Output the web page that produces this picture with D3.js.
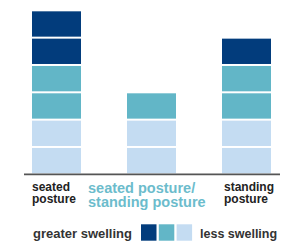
<!DOCTYPE html>
<html>
<head>
<meta charset="utf-8">
<script src="https://cdn.jsdelivr.net/npm/d3@7"></script>
<style>
  body { margin: 0; background: #fff; }
  svg { display: block; font-family: "Liberation Sans", Arial, Helvetica, sans-serif; font-weight: bold; }
</style>
</head>
<body>
<svg id="svg" width="281" height="244"></svg>
<script>
// data
const categories = ['seated', 'mixed', 'standing'];
const categoryLines = [['seated', 'posture'], ['seated posture/', 'standing posture'], ['standing', 'posture']];
const levels = ['less', 'medium', 'greater'];
const lessCounts = [2, 2, 2];
const mediumCounts = [2, 1, 2];
const greaterCounts = [2, 0, 1];
const legendLabels = ['greater swelling', 'less swelling'];

const colors = { less: '#c4dcf2', medium: '#62b6c7', greater: '#023c7c' };

var svg = d3.select('#svg');

const xScale = d3.scaleBand()
  .range([32, 271])
  .domain(categories)
  .paddingInner(46 / 95)
  .paddingOuter(0);

const yScale = d3.scaleLinear()
  .range([173.3, 173.3 - 6 * 27.33])
  .domain([0, 6]);

// one box per unit, stacked bottom-up
const boxes = [];
categories.forEach(function (c, i) {
  var k = 0;
  [lessCounts[i], mediumCounts[i], greaterCounts[i]].forEach(function (n, l) {
    for (var j = 0; j < n; j++) {
      boxes.push({ cat: c, level: levels[l], k: k });
      k++;
    }
  });
});

svg.selectAll('rect.box')
  .data(boxes)
  .enter()
  .append('rect')
  .attr('class', 'box')
  .attr('x', (d) => xScale(d.cat))
  .attr('y', (d) => yScale(d.k + 1) + 2)
  .attr('width', xScale.bandwidth())
  .attr('height', (d) => yScale(d.k) - yScale(d.k + 1) - 2)
  .style('fill', (d) => colors[d.level]);

// baseline
svg.append('line')
  .attr('x1', 24)
  .attr('x2', 280)
  .attr('y1', 174.3)
  .attr('y2', 174.3)
  .style('stroke', '#555')
  .style('stroke-width', 1.8);

// category labels
const labelPos = [
  { x: xScale('seated'), y: 190.5, dy: 12.5, size: 12, fill: '#222' },
  { x: 88, y: 192.7, dy: 14.3, size: 14.5, fill: '#6cbccc' },
  { x: xScale('standing') + 2, y: 190.5, dy: 12.5, size: 12, fill: '#222' }
];
categoryLines.forEach(function (lines, i) {
  var p = labelPos[i];
  var t = svg.append('text')
    .attr('x', p.x)
    .attr('y', p.y)
    .style('font-size', p.size + 'px')
    .style('fill', p.fill);
  lines.forEach(function (s, j) {
    t.append('tspan')
      .attr('x', p.x)
      .attr('y', p.y + j * p.dy)
      .text(s);
  });
});

// legend
svg.append('text')
  .attr('x', 33)
  .attr('y', 238)
  .style('font-size', '13px')
  .style('fill', '#333')
  .text(legendLabels[0]);

const legendLevels = ['greater', 'medium', 'less'];
svg.selectAll('rect.key')
  .data(legendLevels)
  .enter()
  .append('rect')
  .attr('class', 'key')
  .attr('x', (d, i) => 141 + i * 17.8)
  .attr('y', 224.3)
  .attr('width', 15.5)
  .attr('height', 16.4)
  .style('fill', (d) => colors[d]);

svg.append('text')
  .attr('x', 200)
  .attr('y', 238)
  .style('font-size', '12.5px')
  .style('fill', '#333')
  .text(legendLabels[1]);
</script>
</body>
</html>
